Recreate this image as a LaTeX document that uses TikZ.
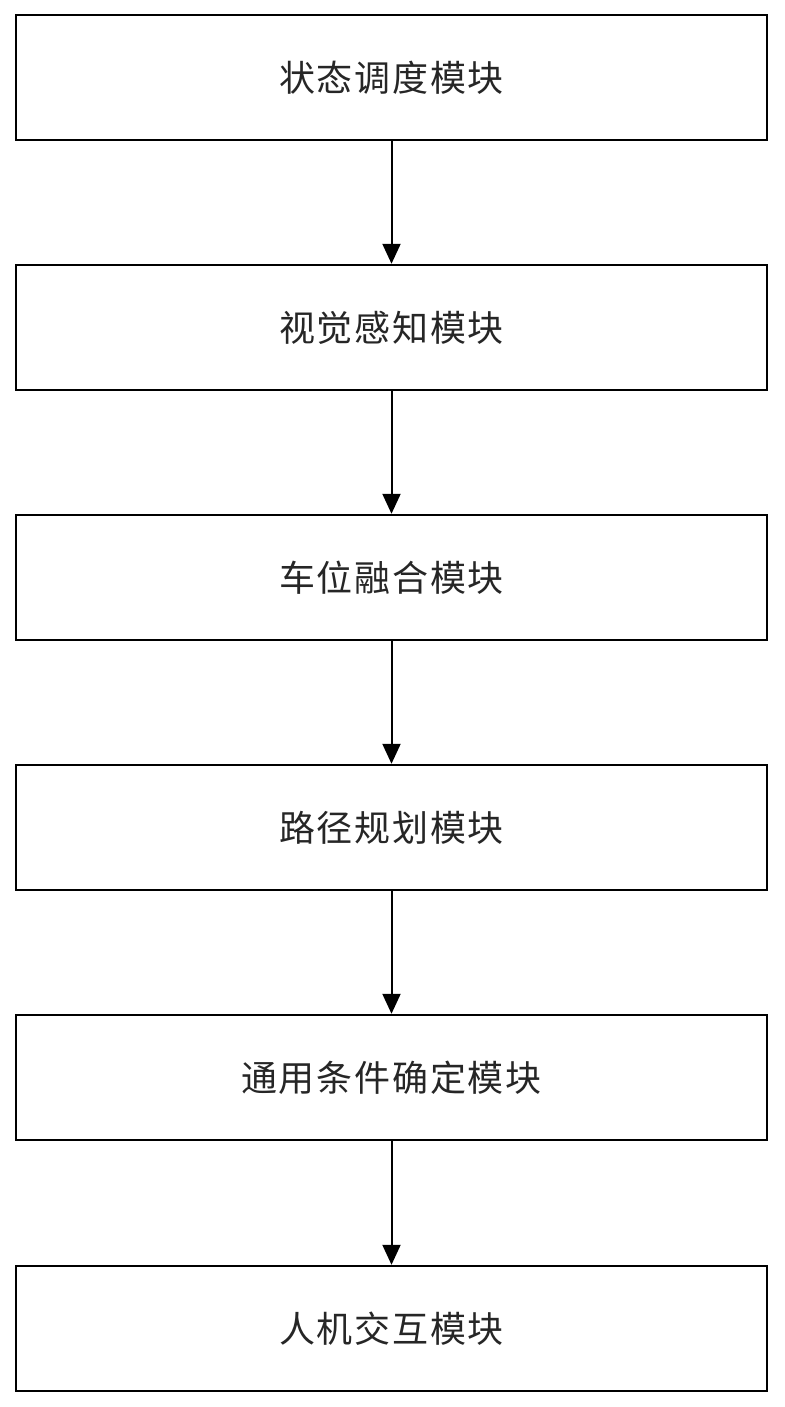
\documentclass[tikz,border=0pt]{standalone}
\usepackage{fontspec}
\newfontfamily\cjk[LetterSpace=5]{Noto Sans CJK SC}
\usetikzlibrary{arrows.meta}
\begin{document}
\begin{tikzpicture}[x=1pt,y=-1pt,
  modbox/.style={draw=black, line width=2.4pt, minimum width=751pt, minimum height=125pt, inner sep=0pt, font=\cjk\fontsize{36}{40}\selectfont, text=black!85},
  flow/.style={draw=black, line width=2pt, -{Triangle[length=20pt,width=18pt]}}]
\useasboundingbox (0,0) rectangle (784,1407);
\node[modbox] (m1) at (391.5,77.5) {状态调度模块};
\node[modbox] (m2) at (391.5,327.5) {视觉感知模块};
\node[modbox] (m3) at (391.5,577.5) {车位融合模块};
\node[modbox] (m4) at (391.5,827.5) {路径规划模块};
\node[modbox] (m5) at (391.5,1077.5) {通用条件确定模块};
\node[modbox] (m6) at (391.5,1328.5) {人机交互模块};
\draw[flow] (m1) -- (m2);
\draw[flow] (m2) -- (m3);
\draw[flow] (m3) -- (m4);
\draw[flow] (m4) -- (m5);
\draw[flow] (m5) -- (m6);
\end{tikzpicture}
\end{document}
